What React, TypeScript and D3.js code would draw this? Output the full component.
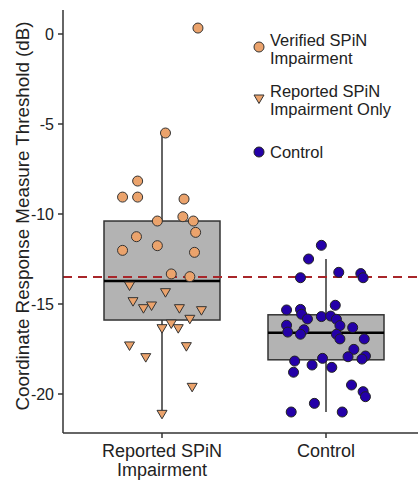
import * as d3 from 'd3'

const groups = ['Reported SPiN Impairment', 'Control']
const groupLines = [['Reported SPiN', 'Impairment'], ['Control']]

const yTicks = [0, -5, -10, -15, -20]

// box stats: [whiskerLow, q1, median, q3, whiskerHigh]
const boxReported = [-21.13, -15.89, -13.72, -10.39, -5.5]
const boxControl = [-21.0, -18.1, -16.6, -15.6, -12.5]

const referenceLine = -13.5

// verified SPiN impairment (circles) — value, jitter (fraction of box width)
const verifiedValues = [0.33, -5.5, -8.17, -9.06, -9.06, -9.17, -10.15, -10.39, -10.39, -11.02, -11.26, -11.76, -12.02, -12.13, -13.33, -13.48]
const verifiedJitter = [0.31, 0.03, -0.21, -0.34, -0.21, 0.19, 0.18, -0.04, 0.27, 0.29, -0.22, -0.04, -0.34, 0.28, 0.08, 0.24]

// reported only (triangles)
const reportedValues = [-14.0, -14.37, -14.87, -15.26, -15.11, -15.26, -15.37, -15.85, -16.11, -16.37, -16.37, -17.33, -17.37, -17.98, -19.63, -21.13]
const reportedJitter = [-0.28, 0.03, -0.25, -0.16, -0.09, 0.15, 0.34, 0.24, 0.08, 0.0, 0.14, -0.28, 0.21, -0.14, 0.26, 0.0]

// control (circles)
const controlValues = [-11.74, -12.5, -13.24, -13.31, -13.54, -13.54, -15.07, -15.33, -15.3, -15.57, -15.83, -15.7, -15.67, -15.85, -16.2, -16.31, -16.18, -16.56, -16.43, -16.68, -16.68, -16.94, -16.94, -17.52, -17.93, -17.89, -18.06, -18.17, -18.02, -18.39, -18.52, -18.79, -19.5, -19.87, -20.15, -20.52, -21.0, -21.0]
const controlJitter = [-0.04, -0.15, 0.11, 0.3, 0.32, -0.22, 0.08, -0.34, -0.22, -0.21, -0.16, -0.04, 0.04, 0.09, 0.12, 0.23, -0.34, -0.33, -0.19, -0.22, 0.09, 0.12, 0.33, 0.24, 0.19, 0.34, 0.31, -0.27, -0.03, -0.12, 0.05, -0.28, 0.22, 0.32, 0.34, -0.1, -0.3, 0.14]

const orange = '#eba36c'
const navy = '#2400a8'
const font = '"Liberation Sans", Arial, sans-serif'

export default function App() {
  const width = 420
  const height = 481
  const left = 63
  const right = 418
  const top = 10
  const bottom = 433
  const boxWidth = 116
  const r = 5

  const y = d3.scaleLinear().domain([0, -20]).range([34, 394])
  const x = d3.scalePoint<string>().domain(groups).range([162, 326])

  const boxes = [boxReported, boxControl]

  const tri = (cx: number, cy: number, s = 5) =>
    `M${cx - s},${cy - s * 0.8} L${cx + s},${cy - s * 0.8} L${cx},${cy + s * 0.9} Z`

  return (
    <svg
      width={width}
      height={height}
      style={{ position: 'absolute', left: 0, top: 0, background: '#fff' }}
      fontFamily={font}
    >
      {boxes.map((b, i) => {
        const cx = x(groups[i]) ?? 0
        return (
          <g key={groups[i]}>
            <line x1={cx} x2={cx} y1={y(b[0])} y2={y(b[1])} stroke="#333" strokeWidth={1.5} />
            <line x1={cx} x2={cx} y1={y(b[3])} y2={y(b[4])} stroke="#333" strokeWidth={1.5} />
            <rect
              x={cx - boxWidth / 2}
              y={y(b[3])}
              width={boxWidth}
              height={y(b[1]) - y(b[3])}
              fill="#b3b3b3"
              stroke="#333"
              strokeWidth={1.5}
            />
            <line x1={cx - boxWidth / 2} x2={cx + boxWidth / 2} y1={y(b[2])} y2={y(b[2])} stroke="#000" strokeWidth={2.5} />
          </g>
        )
      })}

      <line
        x1={left}
        x2={width}
        y1={y(referenceLine)}
        y2={y(referenceLine)}
        stroke="#a8262a"
        strokeWidth={1.8}
        strokeDasharray="9,6"
      />

      {verifiedValues.map((v, i) => (
        <circle
          key={`v${i}`}
          cx={(x(groups[0]) ?? 0) + verifiedJitter[i] * boxWidth}
          cy={y(v)}
          r={r}
          fill={orange}
          stroke="#333"
          strokeWidth={1}
        />
      ))}
      {reportedValues.map((v, i) => (
        <path
          key={`r${i}`}
          d={tri((x(groups[0]) ?? 0) + reportedJitter[i] * boxWidth, y(v))}
          fill={orange}
          stroke="#333"
          strokeWidth={1}
        />
      ))}
      {controlValues.map((v, i) => (
        <circle
          key={`c${i}`}
          cx={(x(groups[1]) ?? 0) + controlJitter[i] * boxWidth}
          cy={y(v)}
          r={r}
          fill={navy}
          stroke="#222"
          strokeWidth={1}
        />
      ))}

      {/* axes */}
      <line x1={left} x2={left} y1={top} y2={bottom} stroke="#333" strokeWidth={1.5} />
      <line x1={left} x2={right} y1={bottom} y2={bottom} stroke="#333" strokeWidth={1.5} />
      {yTicks.map((t) => (
        <g key={t} transform={`translate(0,${y(t)})`}>
          <line x1={left - 5} x2={left} stroke="#333" strokeWidth={1.5} />
          <text x={left - 9} y={5.5} textAnchor="end" fontSize={16} fill="#222">
            {t}
          </text>
        </g>
      ))}
      {groups.map((g, i) => {
        const cx = x(g) ?? 0
        return (
          <g key={g}>
            <line x1={cx} x2={cx} y1={bottom} y2={bottom + 5} stroke="#333" strokeWidth={1.5} />
            {groupLines[i].map((line, j) => (
              <text key={line} x={cx} y={456.5 + j * 19} textAnchor="middle" fontSize={18} fill="#222">
                {line}
              </text>
            ))}
          </g>
        )
      })}
      <text
        transform={`translate(28.5,216) rotate(-90)`}
        textAnchor="middle"
        fontSize={18.8}
        fill="#222"
      >
        Coordinate Response Measure Threshold (dB)
      </text>

      {/* legend */}
      <g fontSize={16.5} fill="#222">
        <circle cx={259} cy={47} r={r} fill={orange} stroke="#333" strokeWidth={1} />
        <text x={270} y={46}>Verified SPiN</text>
        <text x={270} y={64}>Impairment</text>
        <path d={tri(259, 99)} fill={orange} stroke="#333" strokeWidth={1} />
        <text x={270} y={97}>Reported SPiN</text>
        <text x={270} y={115}>Impairment Only</text>
        <circle cx={259} cy={152} r={r} fill={navy} stroke="#222" strokeWidth={1} />
        <text x={270} y={158}>Control</text>
      </g>
    </svg>
  )
}
